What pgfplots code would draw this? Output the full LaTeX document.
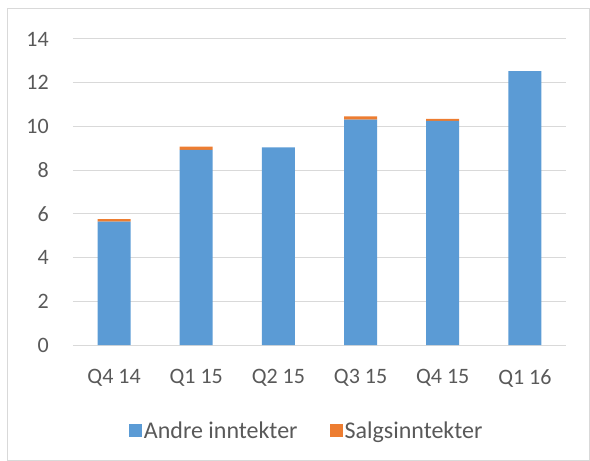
\documentclass[border=0pt]{standalone}
\usepackage{pgfplots}
\pgfplotsset{compat=1.18}
\usepackage{fontspec}
\setmainfont{Carlito}
\definecolor{cblue}{HTML}{5B9BD5}
\definecolor{corange}{HTML}{ED7D31}
\definecolor{cgrid}{HTML}{D9D9D9}
\definecolor{ctext}{HTML}{595959}
\begin{document}
\begin{tikzpicture}
\path (-73pt,-116pt) rectangle (517pt,345pt);
\draw[cgrid,line width=1pt] (-65pt,-115pt) rectangle (516pt,336pt);
\begin{axis}[
  at={(0pt,0pt)}, anchor=south west,
  scale only axis, width=493pt, height=306pt,
  ybar stacked, bar width=33pt,
  xmin=-0.5, xmax=5.5, ymin=0, ymax=14,
  ytick={0,2,...,14},
  xtick={0,...,5},
  xticklabels={Q4 14,Q1 15,Q2 15,Q3 15,Q4 15,Q1 16},
  axis line style={draw=none},
  major tick length=0pt,
  ymajorgrids, grid style={cgrid,line width=1pt},
  /pgf/number format/assume math mode=true,
  tick label style={font=\fontsize{22}{26}\selectfont, text=ctext},
  yticklabel style={anchor=east, inner sep=0pt, xshift=-24pt},
  xticklabel style={anchor=north, inner sep=0pt, yshift=-24pt},
  legend style={at={(0.474,-0.281)}, anchor=center, draw=none, fill=none,
    font=\fontsize{24}{28}\selectfont, text=ctext, legend columns=2,
    /tikz/every odd column/.append style={inner xsep=2pt},
    /tikz/every even column/.append style={column sep=30pt, inner xsep=4pt}},
  legend image code/.code={\fill[#1] (-4pt,-6.5pt) rectangle (9pt,6.5pt);},
]
\addplot[fill=cblue, draw=none] coordinates {(0,5.64) (1,8.93) (2,9.04) (3,10.31) (4,10.25) (5,12.53)};
\addplot[fill=corange, draw=none] coordinates {(0,0.12) (1,0.15) (2,0) (3,0.15) (4,0.09) (5,0)};
\legend{Andre inntekter,Salgsinntekter}
\end{axis}
\end{tikzpicture}
\end{document}
